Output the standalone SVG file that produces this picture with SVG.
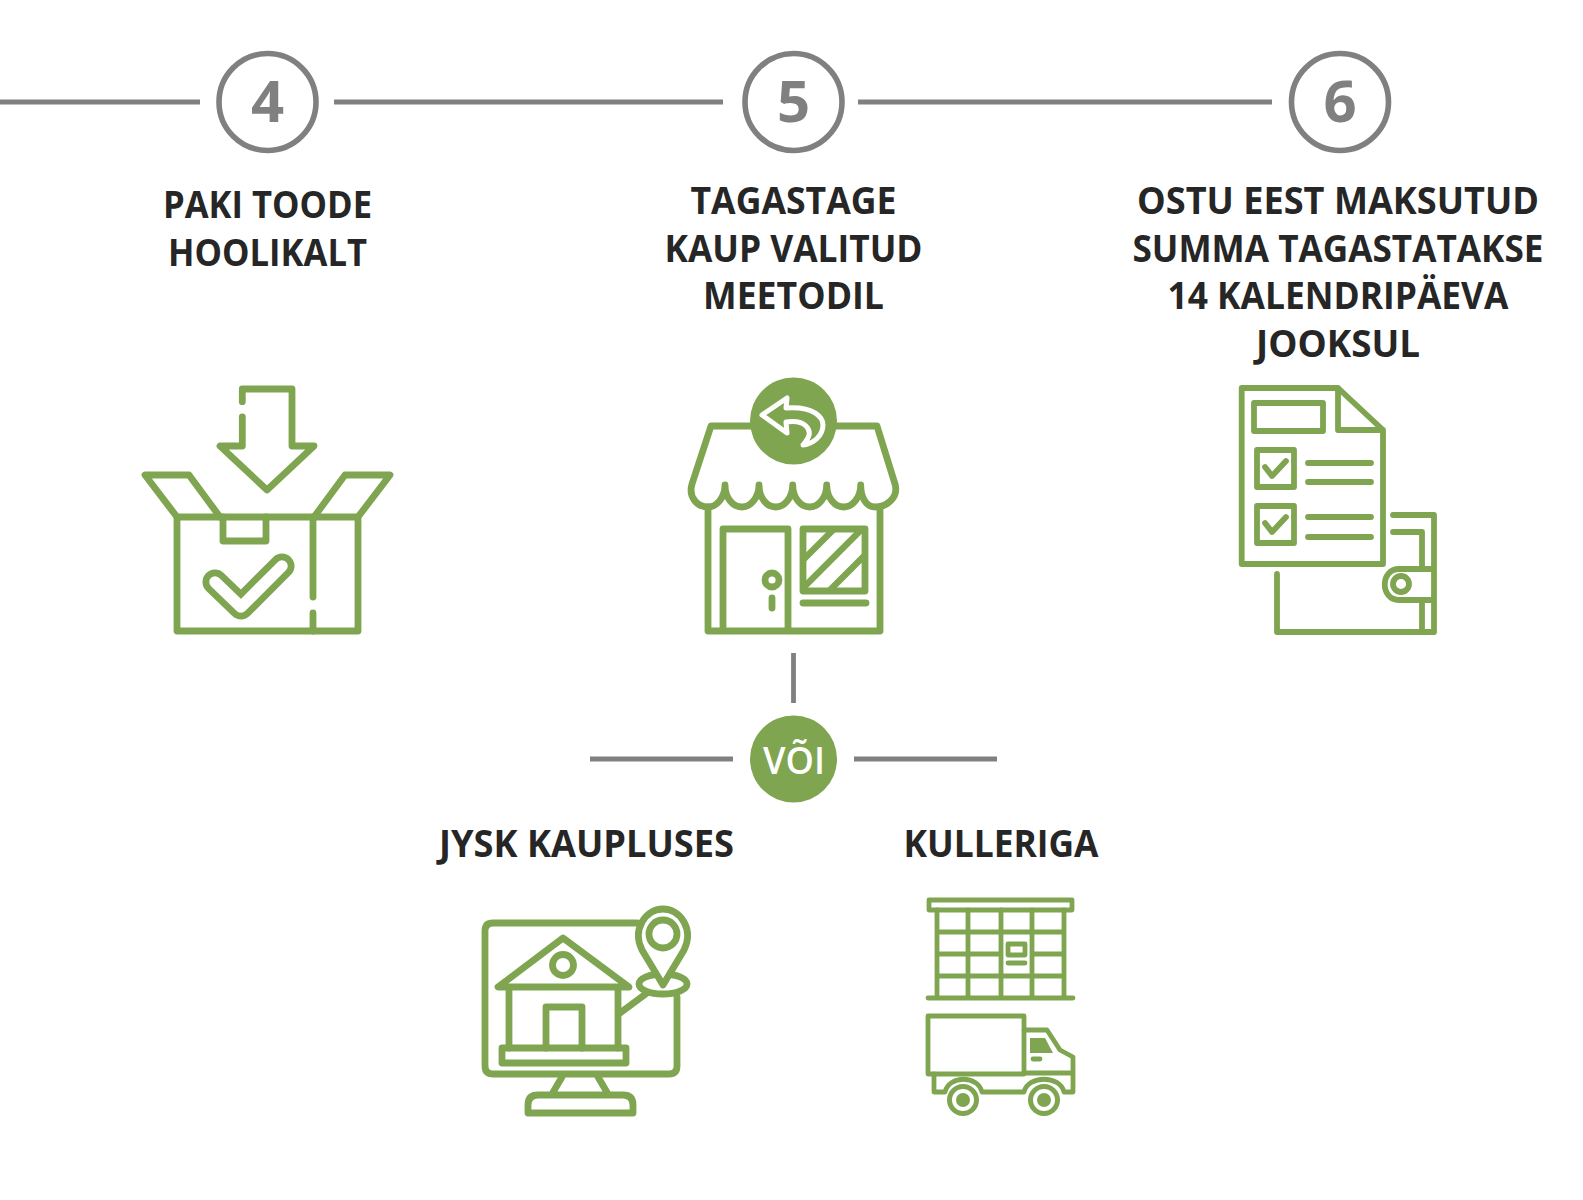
<svg xmlns="http://www.w3.org/2000/svg" width="1583" height="1200" viewBox="0 0 1583 1200">
<style>
.ic{fill:none;stroke:#7fa551;stroke-width:6.800;stroke-linecap:round;stroke-linejoin:round}
.thin{stroke-width:5.800}
.ln{fill:none;stroke:#808080;stroke-width:4.800}
.ring{fill:#fff;stroke:#808080;stroke-width:5.600}
.num{font-family:"Open Sans","Liberation Sans",sans-serif;font-weight:700;font-size:58px;fill:#808080;text-anchor:middle}
.t{font-family:"Open Sans","Liberation Sans",sans-serif;font-weight:700;font-size:38px;fill:#262626;text-anchor:middle}
.g{fill:#7fa551}
</style>
<defs><clipPath id="w"><rect x="803" y="529" width="62" height="62"/></clipPath></defs>
<rect width="1583" height="1200" fill="#fff"/>
<g id="connectors">
<path class="ln" d="M0 102H200M334 102H723M858 102H1272M793.500 653V703M590 759H733M854 759H997"/>
</g>
<g id="step4">
<circle class="ring" cx="267.500" cy="102" r="48.500"/>
<text class="num" x="267.500" y="122">4</text>
<text class="t" x="267.500" y="218" textLength="209" lengthAdjust="spacingAndGlyphs">PAKI TOODE</text>
<text class="t" x="267.500" y="265.500" textLength="199" lengthAdjust="spacingAndGlyphs">HOOLIKALT</text>
</g>
<g id="step5">
<circle class="ring" cx="793.500" cy="102" r="48.500"/>
<text class="num" x="793.500" y="122">5</text>
<text class="t" x="793.500" y="214" textLength="206" lengthAdjust="spacingAndGlyphs">TAGASTAGE</text>
<text class="t" x="793.500" y="261.500" textLength="258" lengthAdjust="spacingAndGlyphs">KAUP VALITUD</text>
<text class="t" x="793.500" y="309" textLength="181" lengthAdjust="spacingAndGlyphs">MEETODIL</text>
</g>
<g id="step6">
<circle class="ring" cx="1340" cy="102" r="48.500"/>
<text class="num" x="1340" y="122">6</text>
<text class="t" x="1338" y="214" textLength="402" lengthAdjust="spacingAndGlyphs">OSTU EEST MAKSUTUD</text>
<text class="t" x="1338" y="261.500" textLength="411" lengthAdjust="spacingAndGlyphs">SUMMA TAGASTATAKSE</text>
<text class="t" x="1338" y="309" textLength="341" lengthAdjust="spacingAndGlyphs">14 KALENDRIPÄEVA</text>
<text class="t" x="1338" y="356.500" textLength="164" lengthAdjust="spacingAndGlyphs">JOOKSUL</text>
</g>
<g id="box-icon">
<path class="ic" d="M242.300 401.700V389H292V446H314L267 490L220 446H242.300V417"/>
<path class="ic" d="M177 517L145 475H189L220 517M358 517L390 475H345L314 517"/>
<rect class="ic" x="177" y="517" width="181" height="114"/>
<path class="ic" d="M223 517V541H266V517M313 517V597M313 613V631"/>
<path d="M215 582L241 607L282 566" fill="none" stroke="#7fa551" stroke-width="25" stroke-linecap="round" stroke-linejoin="round"/>
<path d="M215 582L241 607L282 566" fill="none" stroke="#fff" stroke-width="11.500" stroke-linecap="round" stroke-linejoin="round"/>
</g>
<g id="store-icon">
<path class="ic" d="M711 426H877L895 484C899 498 886 507 875 507C866 507 860.700 497 860.700 485C860.700 498 852 507 843.700 507C835 507 826.700 498 826.700 485C826.700 498 818 507 809.700 507C801 507 792.700 498 792.700 485C792.700 498 784 507 775.800 507C767 507 759 498 759 485C759 498 750 507 742 507C733 507 725 498 725 485C725 497 717 507 708 507C698 507 688 498 692 484Z"/>
<path class="ic" d="M708 507V631H880V507M723 631V529H788V631"/>
<circle class="ic" cx="772" cy="580" r="7"/>
<path class="ic" d="M772 598V608M803 603H866"/>
<rect class="ic" x="803" y="529" width="62" height="62"/>
<path d="M800 563L837 526M800 591L865 526M830 590L868 552" fill="none" stroke="#7fa551" stroke-width="6.500" clip-path="url(#w)"/>
<circle class="g" cx="793.500" cy="421" r="43.500"/>
<path d="M762 415L787 398L786 408C815 406 823 418 823 425C823 436 813 444 803 445C809 438 812 432 806 426C801 421 793 421 786 422L787 433Z" fill="none" stroke="#fff" stroke-width="5" stroke-linejoin="round"/>
</g>
<g id="doc-icon">
<path class="ic thin" d="M1241.700 388H1338L1383 430V564H1241.700ZM1338 388V430H1383"/>
<rect class="ic thin" x="1254" y="403" width="69" height="28"/>
<rect class="ic thin" x="1257" y="450" width="37" height="37"/>
<rect class="ic thin" x="1257" y="506" width="37" height="37"/>
<path class="ic thin" d="M1265 467L1272 476L1286 461M1265 523L1272 532L1286 517M1308 463H1371M1308 482H1371M1308 517H1371M1308 537H1371"/>
<path class="ic thin" d="M1277 574V632H1434V515H1393M1393 532H1422V569M1422 600V632M1434 569H1399C1380 569 1380 600 1399 600H1434"/>
<circle class="ic thin" cx="1401" cy="584" r="8"/>
</g>
<g id="alt">
<circle class="g" cx="793.500" cy="759" r="43.500"/>
<text x="794" y="774" textLength="62" lengthAdjust="spacingAndGlyphs" style="font-family:'Open Sans','Liberation Sans',sans-serif;font-weight:600;font-size:38px;fill:#fff;text-anchor:middle">VÕI</text>
</g>
<g id="store-option">
<text class="t" x="586.500" y="857" textLength="295" lengthAdjust="spacingAndGlyphs">JYSK KAUPLUSES</text>
<path class="ic" d="M637 923H493Q485 923 485 931V1066Q485 1074 493 1074H669Q677 1074 677 1066V997"/>
<path class="ic" d="M562 1077L552 1094M598 1077L608 1094M528 1113V1105Q528 1095 538 1095H623Q633 1095 633 1105V1113Z"/>
<path class="ic" d="M563 938L498 987H629ZM509 987V1048M618 987V1048M546 1048V1007H582V1048"/>
<circle class="ic" cx="563" cy="965" r="10.500"/>
<rect class="ic" x="502" y="1048" width="124" height="15"/>
<path class="ic" d="M620 1013L647 993"/>
<ellipse class="ic" cx="663" cy="984" rx="24" ry="10"/>
<path class="ic" d="M663 985L642 950C632 930 645 909 663 909C681 909 694 930 684 950Z" style="fill:#fff"/>
<circle class="ic" cx="663" cy="934" r="14"/>
</g>
<g id="courier-option">
<text class="t" x="1001" y="857" textLength="195" lengthAdjust="spacingAndGlyphs">KULLERIGA</text>
<g class="ic" style="stroke-width:4.800">
<rect x="929" y="900" width="143" height="10"/>
<path d="M928 998H1073M937 910V998M968 910V998M1001 910V998M1032 910V998M1064 910V998M937 932H1064M937 954H1001M1032 954H1064M937 976H1064"/>
<rect x="1008" y="944" width="17" height="11"/>
<path d="M1008 963H1025"/>
<rect x="928" y="1016" width="96" height="58"/>
<path d="M1024 1030H1047L1060 1050L1073 1057V1092H1064C1060 1075 1028 1075 1024 1092H982C978 1075 949 1075 945 1092H934V1074M1024 1073H1073M1033 1059H1040"/>
</g>
<path class="g" d="M1030 1038H1045L1053 1053H1030Z"/>
<g>
<circle cx="963" cy="1100" r="13.500" fill="#fff" stroke="#7fa551" stroke-width="5"/>
<circle class="g" cx="963" cy="1100" r="7"/>
<circle cx="1044" cy="1100" r="13.500" fill="#fff" stroke="#7fa551" stroke-width="5"/>
<circle class="g" cx="1044" cy="1100" r="7"/>
</g>
</g>
</svg>
